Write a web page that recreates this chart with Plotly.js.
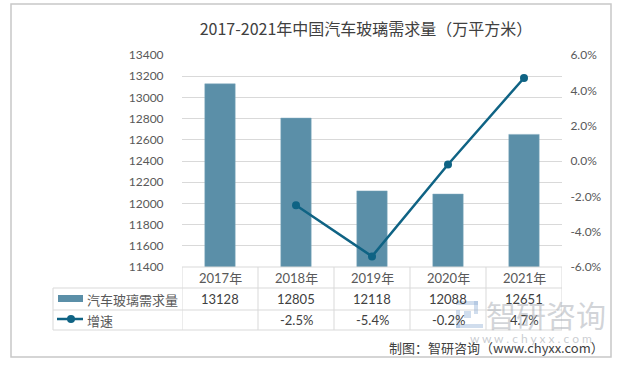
<!DOCTYPE html>
<html>
<head>
<meta charset="utf-8">
<script src="https://cdn.plot.ly/plotly-3.0.1.min.js"></script>
<style>html,body{margin:0;padding:0;background:#fff;}#chart{width:622px;height:365px;}</style>
</head>
<body>
<div id="chart"></div>
<script>
// ---- data ----
const years = ["2017年", "2018年", "2019年", "2020年", "2021年"];
const demand = [13128, 12805, 12118, 12088, 12651];
const growth = [null, -2.5, -5.4, -0.2, 4.7];
const barName = "汽车玻璃需求量";
const lineName = "增速";
const titleText = "2017-2021年中国汽车玻璃需求量（万平方米）";
const sourceText = "制图：智研咨询（www.chyxx.com）";
const leftTicks = [11400, 11600, 11800, 12000, 12200, 12400, 12600, 12800, 13000, 13200, 13400];
const rightTicks = [-6, -4, -2, 0, 2, 4, 6];

// ---- layout geometry (pixels) ----
const W = 622, H = 365;
const L = 182, R = 562, T = 55, B = 267;
const px = x => (x - L) / (R - L);
const py = y => (B - y) / (B - T);

const barColor = "#5b8fa8";
const lineColor = "#0f6384";
const gridColor = "#d9d9d9";
const textColor = "#595959";
const FONT = "Lato, 'Noto Sans CJK SC', sans-serif";
const CJK = "'Noto Sans CJK SC', sans-serif";

const traces = [
  {
    type: "bar", x: years, y: demand, name: barName,
    marker: {color: barColor, line: {color: "#7fa9bd", width: 0.5}},
    width: 0.4, yaxis: "y", hoverinfo: "skip"
  },
  {
    type: "scatter", mode: "lines+markers", x: years, y: growth, name: lineName,
    yaxis: "y2", line: {color: lineColor, width: 2.5},
    marker: {color: lineColor, size: 8}, connectgaps: false, hoverinfo: "skip"
  }
];

const shapes = [];
const annotations = [];
const line = (x0, y0, x1, y1, color, w) => shapes.push({
  type: "line", xref: "paper", yref: "paper",
  x0: px(x0), y0: py(y0), x1: px(x1), y1: py(y1),
  line: {color: color || gridColor, width: w || 1}
});
const note = (o) => annotations.push(Object.assign({showarrow: false, xanchor: "center", yanchor: "middle"}, o));

// outer border
shapes.push({type: "rect", xref: "paper", yref: "paper",
  x0: px(11), y0: py(4), x1: px(611), y1: py(357),
  line: {color: "#c8c8c8", width: 1.5}});

// table grid
line(L, 267, R, 267);
line(53, 288, R, 288);
line(53, 310, R, 310);
line(53, 330, R, 330);
line(53, 288, 53, 330);
for (let i = 0; i <= years.length; i++) {
  shapes.push({type: "line", xref: "x", yref: "paper",
    x0: i - 0.5, x1: i - 0.5, y0: py(267), y1: py(330),
    line: {color: gridColor, width: 1}});
}

// legend icons in table
shapes.push({type: "rect", xref: "paper", yref: "paper",
  x0: px(58), x1: px(83), y0: py(302), y1: py(295),
  fillcolor: barColor, line: {width: 0}});
line(57, 319, 83, 319, lineColor, 2.5);
shapes.push({type: "circle", xref: "paper", yref: "paper",
  x0: px(67), x1: px(75), y0: py(323), y1: py(315),
  fillcolor: lineColor, line: {width: 0}});

// table text
years.forEach((yr, i) => {
  note({xref: "x", yref: "paper", x: yr, y: py(277.5), text: yr,
    font: {family: FONT, size: 13, color: textColor}});
  note({xref: "x", yref: "paper", x: yr, y: py(299), text: String(demand[i]),
    font: {family: FONT, size: 13, color: "#404040"}});
  if (growth[i] !== null) {
    note({xref: "x", yref: "paper", x: yr, y: py(320), text: growth[i].toFixed(1) + "%",
      font: {family: FONT, size: 13, color: "#404040"}});
  }
});
note({xref: "paper", yref: "paper", x: px(85), y: py(299), xanchor: "left",
  text: barName, font: {family: CJK, size: 13, color: textColor}});
note({xref: "paper", yref: "paper", x: px(85), y: py(320), xanchor: "left",
  text: lineName, font: {family: CJK, size: 13, color: textColor}});

// watermark
const wm = "rgba(150,180,215,0.45)";
const wrect = (x0, y0, x1, y1) => shapes.push({type: "rect", xref: "paper", yref: "paper",
  x0: px(x0), x1: px(x1), y0: py(y0), y1: py(y1), fillcolor: wm, line: {width: 0}});
wrect(456, 301, 478, 305);
wrect(474, 301, 478, 314);
wrect(456, 310, 460, 328);
wrect(456, 324, 483, 328);
wrect(464, 311, 471, 318);
note({xref: "paper", yref: "paper", x: px(546), y: py(314), text: "智研咨询",
  font: {family: CJK, size: 30, color: "rgba(165,170,178,0.5)"}});
note({xref: "paper", yref: "paper", x: px(531), y: py(338), text: "w w w . c h y x x . c o m",
  font: {family: FONT, size: 12, color: "rgba(165,170,178,0.6)"}});

// source
note({xref: "paper", yref: "paper", x: px(606), y: py(347), xanchor: "right",
  text: sourceText, font: {family: CJK, size: 13, color: "#404040"}});

const layout = {
  width: W, height: H,
  margin: {l: L, r: W - R, t: T, b: H - B, pad: 0},
  paper_bgcolor: "#fff", plot_bgcolor: "#fff",
  showlegend: false,
  title: {text: titleText, x: px(366), xref: "paper", xanchor: "center", y: 1 - 29 / H, yanchor: "middle",
    font: {family: CJK, size: 16, color: "#404040"}},
  xaxis: {type: "category", range: [-0.5, 4.5], showticklabels: false, ticks: "",
    showgrid: false, zeroline: false, showline: false, fixedrange: true},
  yaxis: {range: [11400, 13400], tickvals: leftTicks, ticktext: leftTicks.map(String),
    showgrid: true, gridcolor: gridColor, gridwidth: 1, zeroline: false, showline: false,
    ticks: "outside", ticklen: 15, tickcolor: "rgba(0,0,0,0)",
    tickfont: {family: FONT, size: 12, color: textColor}},
  yaxis2: {range: [-6, 6], overlaying: "y", side: "right", tickvals: rightTicks,
    ticktext: rightTicks.map(v => v.toFixed(1) + "%"), showgrid: false, zeroline: false, showline: false,
    ticks: "outside", ticklen: 5, tickcolor: "rgba(0,0,0,0)",
    tickfont: {family: FONT, size: 12, color: textColor}},
  shapes: shapes, annotations: annotations
};

Plotly.newPlot("chart", traces, layout, {staticPlot: true, displayModeBar: false});
</script>
</body>
</html>
